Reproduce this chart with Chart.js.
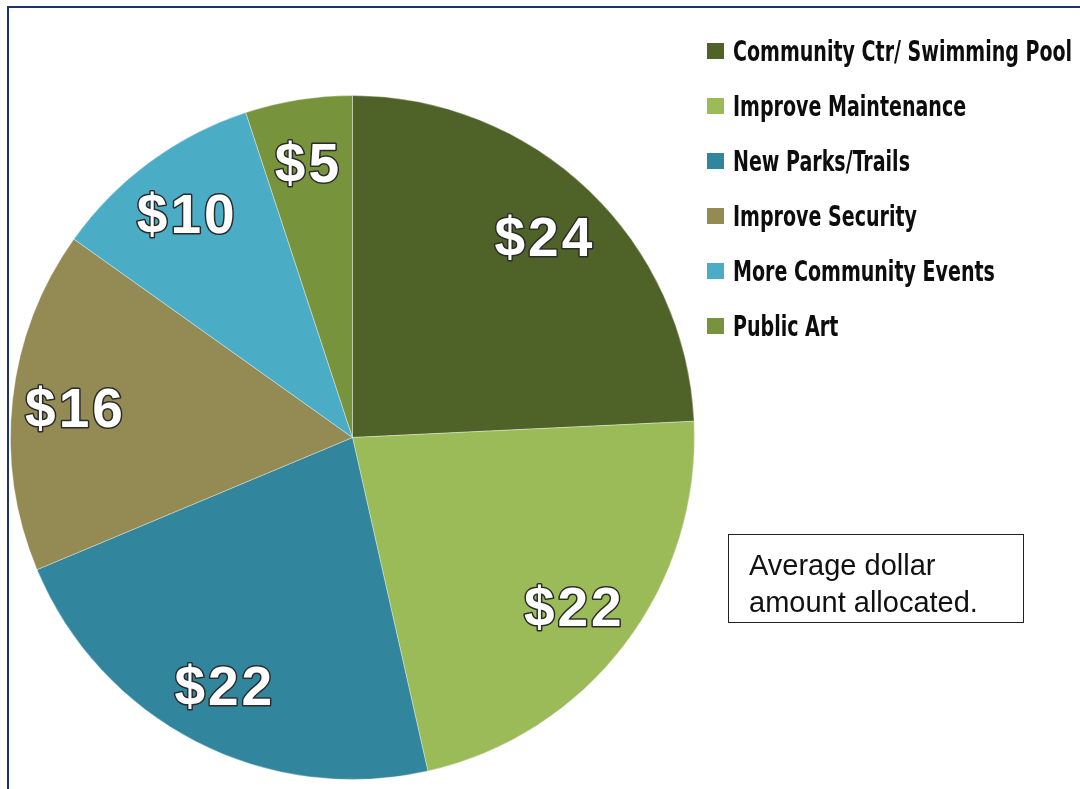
<!DOCTYPE html>
<html>
<head>
<meta charset="utf-8">
<script src="https://cdn.jsdelivr.net/npm/chart.js@4/dist/chart.umd.min.js"></script>
<style>
  html, body { margin: 0; padding: 0; background: #fff; }
  #wrap { position: relative; width: 1080px; height: 789px; overflow: hidden; }
  #frame {
    position: absolute; left: 7px; top: 6px; width: 1200px; height: 900px;
    border-top: 2px solid #1c3372; border-left: 2px solid #1c3372;
  }
  canvas { position: absolute; left: 0; top: 0; }
  #legend {
    position: absolute; left: 707px; top: 23px; margin: 0; padding: 0; list-style: none;
    font-family: "DejaVu Sans Condensed", "Liberation Sans Narrow", sans-serif;
    font-weight: bold; font-size: 29px; color: #0d0d0d;
  }
  #legend li { height: 55px; display: flex; align-items: center; white-space: nowrap; }
  #legend .sw { width: 17px; height: 16px; margin-right: 9px; flex: none; }
  #legend .tx { display: inline-block; transform: scaleX(0.73); transform-origin: left center; }
  #note {
    position: absolute; left: 728px; top: 534px; width: 296px; height: 89px;
    border: 1px solid #222; box-sizing: border-box;
    font-family: "Liberation Sans", Arial, sans-serif; font-size: 29px; line-height: 37px;
    color: #111; padding: 12px 0 0 20px;
  }
</style>
</head>
<body>
<div id="wrap">
  <div id="frame"></div>
  <canvas id="pie" width="1080" height="789"></canvas>
  <ul id="legend"></ul>
  <div id="note">Average dollar<br>amount allocated.</div>
</div>
<script>
// -----------------------------
// Data
// -----------------------------
const categories = [
  "Community Ctr/ Swimming Pool",
  "Improve Maintenance",
  "New Parks/Trails",
  "Improve Security",
  "More Community Events",
  "Public Art"
]
const dollars = [24, 22, 22, 16, 10, 5]
const colors = ["#4f6228", "#9bbb59", "#31859c", "#948a54", "#4bacc6", "#77933c"]

// -----------------------------
// Legend (HTML)
// -----------------------------
const legendEl = document.getElementById("legend")
categories.forEach((name, i) => {
  const li = document.createElement("li")
  li.innerHTML = `<span class="sw" style="background:${colors[i]}"></span><span class="tx">${name}</span>`
  legendEl.appendChild(li)
})

// -----------------------------
// Slice labels
// -----------------------------
const sliceLabels = {
  id: "sliceLabels",
  afterDatasetsDraw(chart) {
    const ctx = chart.ctx
    const arcs = chart.getDatasetMeta(0).data
    ctx.save()
    ctx.font = "bold 55px 'Liberation Sans', Arial, sans-serif"
    ctx.letterSpacing = "3px"
    ctx.textAlign = "center"
    ctx.textBaseline = "middle"
    ctx.lineJoin = "round"
    arcs.forEach((arc, i) => {
      const p = arc.getProps(["x", "y", "startAngle", "endAngle", "outerRadius"], true)
      const mid = (p.startAngle + p.endAngle) / 2
      const r = p.outerRadius * 0.815
      const x = p.x + Math.cos(mid) * r
      const y = p.y + Math.sin(mid) * r + 5
      const txt = "$" + dollars[i]
      ctx.lineWidth = 3
      ctx.strokeStyle = "#2b2b2b"
      ctx.strokeText(txt, x, y)
      ctx.fillStyle = "#ffffff"
      ctx.fillText(txt, x, y)
    })
    ctx.restore()
  }
}

// -----------------------------
// Chart
// -----------------------------
new Chart(document.getElementById("pie"), {
  type: "pie",
  data: {
    labels: categories,
    datasets: [{
      data: dollars,
      backgroundColor: colors,
      borderColor: "rgba(255,255,255,0.35)",
      borderWidth: 1
    }]
  },
  options: {
    responsive: false,
    animation: false,
    layout: { padding: { left: 10, right: 385, top: 95, bottom: 9 } },
    plugins: {
      legend: { display: false },
      tooltip: { enabled: false }
    }
  },
  plugins: [sliceLabels]
})
</script>
</body>
</html>
